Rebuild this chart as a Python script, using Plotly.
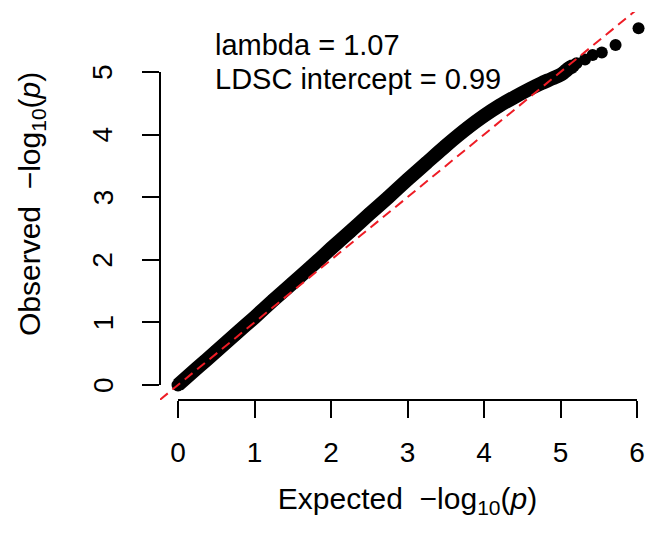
import plotly.graph_objects as go

# ---- data ----
expected_band = [0.0, 0.25, 0.5, 0.75, 1.0, 1.25, 1.5, 1.75, 2.0, 2.25, 2.5, 2.75,
                 3.0, 3.25, 3.5, 3.8, 4.0, 4.2, 4.4, 4.6, 4.75, 4.9, 5.02, 5.07,
                 5.11, 5.17]
observed_band = [0.0, 0.27, 0.54, 0.81, 1.08, 1.36, 1.63, 1.90, 2.18, 2.45, 2.73, 3.00,
                 3.28, 3.55, 3.82, 4.12, 4.30, 4.46, 4.60, 4.73, 4.82, 4.90, 4.97, 5.02,
                 5.06, 5.10]
expected_tail = [5.21, 5.32, 5.42, 5.54, 5.72, 6.02]
observed_tail = [5.14, 5.20, 5.27, 5.31, 5.43, 5.70]

x_ticks = [0, 1, 2, 3, 4, 5, 6]
y_ticks = [0, 1, 2, 3, 4, 5]
stats_lines = ["lambda = 1.07", "LDSC intercept = 0.99"]
x_title = "Expected  \u2212log<sub>10</sub>(<i>p</i>)"
y_title = "Observed  \u2212log<sub>10</sub>(<i>p</i>)"

x_range = [-0.2353, 6.2353]
y_range = [-0.2396, 5.958]

FONT = "Liberation Sans, Arial, Helvetica, sans-serif"
W, H = 655, 540
ML, MR, MT, MB = 160, 0, 12, 140


def px(v, r):
    return (v - r[0]) / (r[1] - r[0])


fig = go.Figure()

# dense band of points
fig.add_trace(go.Scatter(
    x=expected_band, y=observed_band, mode="lines+markers",
    line=dict(color="black", width=14, shape="spline", smoothing=0.6),
    marker=dict(color="black", size=13),
    hoverinfo="skip", showlegend=False))
# sparse tail points
fig.add_trace(go.Scatter(
    x=expected_tail, y=observed_tail, mode="markers",
    marker=dict(color="black", size=12),
    hoverinfo="skip", showlegend=False))
# y = x reference line across the whole plotting region
fig.add_trace(go.Scatter(
    x=x_range, y=x_range, mode="lines",
    line=dict(color="#ee1c25", width=2, dash="10px,6px"),
    hoverinfo="skip", showlegend=False))

# R-style axis lines spanning only first..last tick
fig.add_shape(type="line", xref="paper", yref="paper",
              x0=px(x_ticks[0], x_range), x1=px(x_ticks[-1], x_range), y0=0, y1=0,
              line=dict(color="black", width=2))
fig.add_shape(type="line", xref="paper", yref="paper",
              x0=0, x1=0, y0=px(y_ticks[0], y_range), y1=px(y_ticks[-1], y_range),
              line=dict(color="black", width=2))

# rotated y tick labels (R style, las=0)
for v in y_ticks:
    fig.add_annotation(text=str(v), xref="paper", yref="y", x=0, y=v,
                       xanchor="center", yanchor="middle", xshift=-57,
                       textangle=-90, showarrow=False,
                       font=dict(family=FONT, size=28, color="black"))
# y axis title
fig.add_annotation(text=y_title, xref="paper", yref="paper", x=0, y=0.505,
                   xanchor="center", yanchor="middle", xshift=-129,
                   textangle=-90, showarrow=False,
                   font=dict(family=FONT, size=30, color="black"))

fig.add_annotation(text=stats_lines[0], xref="paper", yref="paper",
                   x=0.108, y=0.915, xanchor="left", yanchor="middle",
                   showarrow=False, font=dict(family=FONT, size=29, color="black"))
fig.add_annotation(text=stats_lines[1], xref="paper", yref="paper",
                   x=0.108, y=0.828, xanchor="left", yanchor="middle",
                   showarrow=False, font=dict(family=FONT, size=29, color="black"))

fig.update_xaxes(range=x_range, tickvals=x_ticks, ticktext=[str(v) for v in x_ticks],
                 ticks="outside", ticklen=17, tickwidth=2, tickcolor="black",
                 showline=False, showgrid=False, zeroline=False,
                 tickfont=dict(family=FONT, size=28, color="black"),
                 ticklabelstandoff=10,
                 title=dict(text=x_title,
                            font=dict(family=FONT, size=30, color="black"), standoff=21))
fig.update_yaxes(range=y_range, tickvals=y_ticks, showticklabels=False,
                 ticks="outside", ticklen=17, tickwidth=2, tickcolor="black",
                 showline=False, showgrid=False, zeroline=False)

fig.update_layout(width=W, height=H, autosize=False,
                  margin=dict(l=ML, r=MR, t=MT, b=MB),
                  paper_bgcolor="white", plot_bgcolor="white",
                  showlegend=False)

fig.write_html("out.html")
